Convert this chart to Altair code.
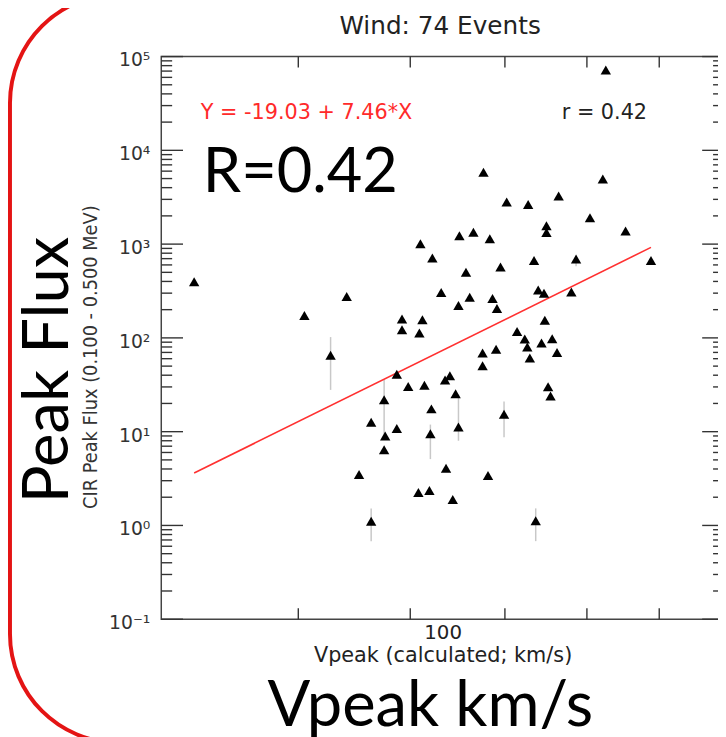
import altair as alt
import pandas as pd

# ---- data ----
vpeak = [422, 505, 541, 527, 610, 622, 592, 612, 592, 609, 587, 598, 614, 575, 676, 821, 764, 702,
         727, 804, 749, 749, 852, 650, 665, 683, 888, 734, 786, 695, 657, 631, 739, 746, 780, 661,
         686, 649, 691, 747, 714, 723, 756, 743, 726, 675, 690, 762, 729, 675, 640, 635, 646, 751,
         754, 621, 563, 587, 576, 620, 575, 552, 608, 619, 563, 699, 649, 636, 681, 643, 736, 825]
flux = [397, 173, 276, 65.4, 1009, 711, 159, 156, 122, 113, 40.9, 30.3, 31.2, 21.9, 5840, 4960, 3260, 2820,
        2640, 1910, 1573, 1327, 1383, 1225, 1337, 1139, 668, 668, 694, 571, 502, 304, 325, 300, 309, 272,
        263, 222, 206, 154, 117, 97.1, 98.0, 88.1, 80.0, 69.1, 75.6, 69.8, 61.2, 50.4, 39.5, 35.6, 25.4, 30.1,
        24.0, 17.5, 12.6, 10.8, 9.0, 9.5, 6.4, 3.49, 2.24, 2.36, 1.11, 15.3, 11.2, 4.07, 3.40, 1.89, 1.12, 71700]

err_v = [527, 575, 620, 563, 699, 736, 649, 786]
err_lo = [27.9, 8.9, 5.1, 0.68, 8.7, 0.68, 8.0, 581]
err_hi = [102, 35.6, 11.9, 1.52, 21.0, 1.52, 24.8, 694]

fit_v = [422, 888]
fit_flux = [3.62, 923]

x_tick_values = [500, 600, 700, 800, 900]
y_major_values = [0.1, 1, 10, 100, 1000, 10000, 100000]
y_major_labels = ["10⁻¹", "10⁰", "10¹", "10²", "10³", "10⁴", "10⁵"]
y_minor_values = [m * 10.0 ** k for k in range(-1, 5) for m in range(2, 10)]

# ---- layout ----
W, H = 569, 569
xs = alt.Scale(type="log", domain=[400, 1000], nice=False)
ys = alt.Scale(type="log", domain=[0.1, 100000], nice=False)
TICK = "#333333"

pts = pd.DataFrame({"v": vpeak, "f": flux})
errs = pd.DataFrame({"v": err_v, "lo": err_lo, "hi": err_hi})
fit = pd.DataFrame({"v": fit_v, "f": fit_flux})
xt = pd.DataFrame({"v": x_tick_values})
ymaj = pd.DataFrame({"f": y_major_values, "lab": y_major_labels})
ymin = pd.DataFrame({"f": y_minor_values})

points = alt.Chart(pts).mark_point(
    shape="triangle-up", filled=True, color="black", size=110, opacity=1
).encode(
    x=alt.X("v:Q", scale=xs, axis=None),
    y=alt.Y("f:Q", scale=ys, axis=None),
)

err_layer = alt.Chart(errs).mark_rule(color="#c8c8c8", strokeWidth=1.5).encode(
    x=alt.X("v:Q", scale=xs, axis=None),
    y=alt.Y("lo:Q", scale=ys, axis=None),
    y2="hi:Q",
)

fit_layer = alt.Chart(fit).mark_line(color="#ff3030", strokeWidth=1.6).encode(
    x=alt.X("v:Q", scale=xs, axis=None),
    y=alt.Y("f:Q", scale=ys, axis=None),
)

def yticks(df, x0, x1):
    return alt.Chart(df).mark_rule(color=TICK, strokeWidth=1.4).encode(
        y=alt.Y("f:Q", scale=ys, axis=None), x=alt.value(x0), x2=alt.value(x1))

def xticks(y0, y1):
    return alt.Chart(xt).mark_rule(color=TICK, strokeWidth=1.4).encode(
        x=alt.X("v:Q", scale=xs, axis=None), y=alt.value(y0), y2=alt.value(y1))

tick_layers = [
    yticks(ymaj, 0, 22), yticks(ymin, 0, 11),
    yticks(ymaj, W, W - 22), yticks(ymin, W, W - 11),
    xticks(H, H - 11), xticks(0, 11),
]

ylabels = alt.Chart(ymaj).mark_text(
    font="DejaVu Sans", fontSize=19, color="#333", align="right", baseline="middle", dy=4
).encode(y=alt.Y("f:Q", scale=ys, axis=None), x=alt.value(-11), text="lab:N")

def label(text, x, y, size, font="DejaVu Sans", color="#222", align="center",
          baseline="middle", angle=0):
    return alt.Chart(pd.DataFrame({"t": [text]})).mark_text(
        font=font, fontSize=size, color=color, align=align, baseline=baseline, angle=angle
    ).encode(text="t:N", x=alt.value(x), y=alt.value(y))

texts = [
    label("Wind: 74 Events", 282, -31, 25),
    label("Y = -19.03 + 7.46*X", 40, 57, 21, color="#ff2a2a", align="left"),
    label("r = 0.42", 405, 57, 21, align="left"),
    label("R=0.42", 42, 137, 62, font="Lato", color="black", align="left", baseline="alphabetic"),
    label("100", 285, 583, 20),
    label("Vpeak (calculated; km/s)", 285, 606, 21),
    label("CIR Peak Flux (0.100 - 0.500 MeV)", -71, 304, 20, font="DejaVu Sans Condensed",
          color="#333", angle=270),
    label("Peak Flux", -94, 317, 64, font="Lato", color="black", baseline="alphabetic", angle=270),
    label("Vpeak km/s", 272, 677, 64, font="Lato", color="black", baseline="alphabetic"),
]

frame = alt.Chart(pd.DataFrame({"a": [0]})).mark_rect(
    fill="transparent", stroke="#e41414", strokeWidth=4, cornerRadius=110
).encode(x=alt.value(-153), x2=alt.value(837), y=alt.value(-63), y2=alt.value(694))

chart = alt.layer(
    frame, err_layer, fit_layer, *tick_layers, points, ylabels, *texts
).properties(
    width=W, height=H,
    autosize=alt.AutoSizeParams(type="none"),
    padding={"left": 155, "right": -6, "top": 45, "bottom": 115},
    background="white",
).configure_view(stroke="#444", strokeWidth=1.5)

chart.save("out.html", embed_options={"renderer": "svg", "actions": False})
